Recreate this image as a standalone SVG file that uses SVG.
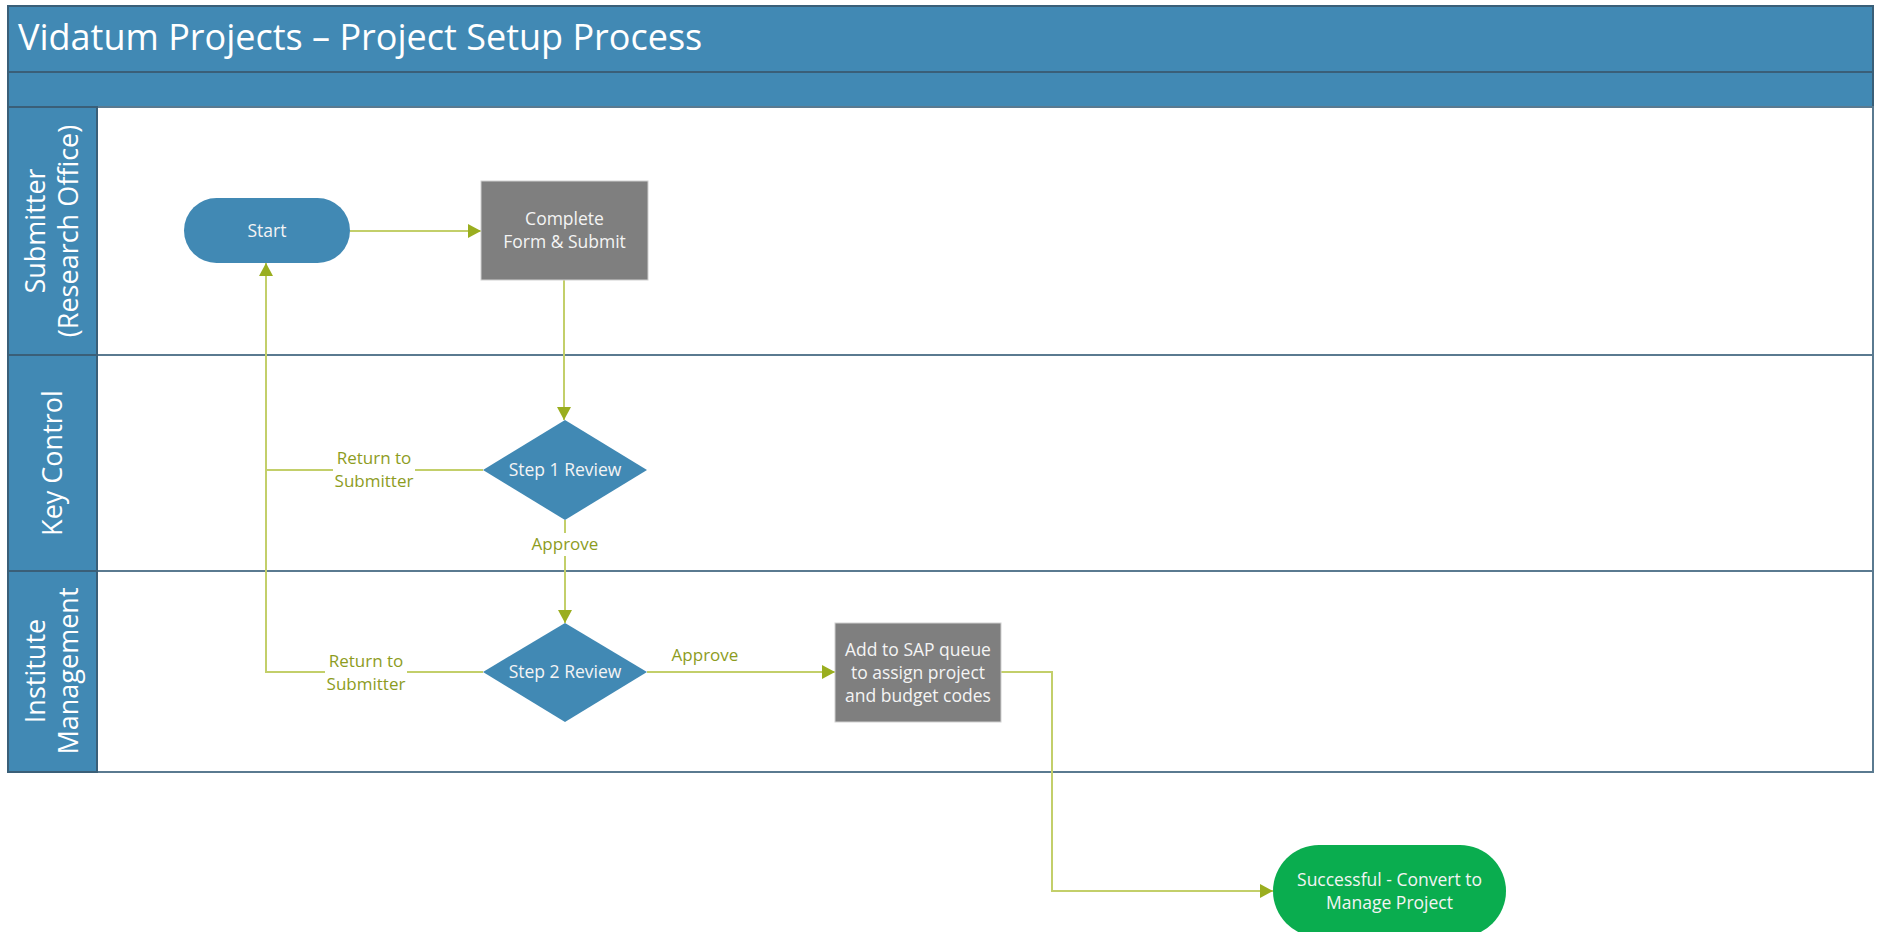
<svg xmlns="http://www.w3.org/2000/svg" width="1878" height="932" viewBox="0 0 1878 932">
<defs>
<style>
.band{fill:#4189b4;stroke:#3a5f78;stroke-width:2}
.lanebody{fill:#ffffff;stroke:#5a7a90;stroke-width:2}
.lanehead{fill:#4189b4;stroke:#3a5f78;stroke-width:2}
.title{font-family:"Open Sans","Noto Sans",sans-serif;font-size:36px;fill:#ffffff}
.lanetxt{font-family:"Open Sans","Noto Sans",sans-serif;font-size:27px;fill:#ffffff;text-anchor:middle}
.ntxt{font-family:"Open Sans","Noto Sans",sans-serif;font-size:17.5px;fill:#f4f4f4;text-anchor:middle}
.lbl{font-family:"Open Sans","Noto Sans",sans-serif;font-size:17px;fill:#8d9c1e;text-anchor:middle}
.conn{fill:none;stroke:#c3cf6a;stroke-width:2}
.blue{fill:#4189b4}
.gray{fill:#7f7f7f;stroke:#d0d0d0;stroke-width:1}
.green{fill:#0aad4f}
.lblbg{fill:#ffffff}
</style>
<marker id="arr" markerUnits="userSpaceOnUse" markerWidth="14" markerHeight="14" refX="13" refY="7" orient="auto">
<path d="M0,0 L13,7 L0,14 Z" fill="#9aae1f"/>
</marker>
</defs>
<rect x="0" y="0" width="1878" height="932" fill="#ffffff"/>

<g id="header">
<rect class="band" x="8" y="6" width="1865" height="66"/>
<text class="title" x="18" y="50">Vidatum Projects – Project Setup Process</text>
<rect class="band" x="8" y="72" width="1865" height="35"/>
</g>

<g id="lane-submitter">
<rect class="lanebody" x="8" y="107" width="1865" height="248"/>
<rect class="lanehead" x="8" y="107" width="89" height="248"/>
<text class="lanetxt" transform="translate(45,231) rotate(-90)">Submitter</text>
<text class="lanetxt" transform="translate(78,231) rotate(-90)">(Research Office)</text>
</g>

<g id="lane-keycontrol">
<rect class="lanebody" x="8" y="355" width="1865" height="216"/>
<rect class="lanehead" x="8" y="355" width="89" height="216"/>
<text class="lanetxt" transform="translate(62,463) rotate(-90)">Key Control</text>
</g>

<g id="lane-institute">
<rect class="lanebody" x="8" y="571" width="1865" height="201"/>
<rect class="lanehead" x="8" y="571" width="89" height="201"/>
<text class="lanetxt" transform="translate(45,671) rotate(-90)">Institute</text>
<text class="lanetxt" transform="translate(78,671) rotate(-90)">Management</text>
</g>

<g id="connectors">
<path class="conn" d="M350,231 H481" marker-end="url(#arr)"/>
<path class="conn" d="M564,280 V420" marker-end="url(#arr)"/>
<path class="conn" d="M483,672 H266 V263" marker-end="url(#arr)"/>
<path class="conn" d="M483,470 H266"/>
<path class="conn" d="M565,520 V623" marker-end="url(#arr)"/>
<path class="conn" d="M647,672 H835" marker-end="url(#arr)"/>
<path class="conn" d="M1001,672 H1052 V891 H1273" marker-end="url(#arr)"/>
<rect class="lblbg" x="333" y="448" width="82" height="44"/>
<text class="lbl" x="374" y="464">Return to</text>
<text class="lbl" x="374" y="487">Submitter</text>
<rect class="lblbg" x="325" y="650" width="82" height="44"/>
<text class="lbl" x="366" y="667">Return to</text>
<text class="lbl" x="366" y="690">Submitter</text>
<rect class="lblbg" x="528" y="533" width="74" height="23"/>
<text class="lbl" x="565" y="550">Approve</text>
<text class="lbl" x="705" y="661">Approve</text>
</g>

<g id="start">
<rect class="blue" x="184" y="198" width="166" height="65" rx="32.5"/>
<text class="ntxt" x="267" y="237">Start</text>
</g>

<g id="complete-form">
<rect class="gray" x="481" y="181" width="167" height="99"/>
<text class="ntxt" x="564.5" y="225">Complete</text>
<text class="ntxt" x="564.5" y="248">Form &amp; Submit</text>
</g>

<g id="step1-review">
<polygon class="blue" points="565,420 647,470 565,520 483,470"/>
<text class="ntxt" x="565" y="476">Step 1 Review</text>
</g>

<g id="step2-review">
<polygon class="blue" points="565,623 647,672 565,722 483,672"/>
<text class="ntxt" x="565" y="678">Step 2 Review</text>
</g>

<g id="sap-queue">
<rect class="gray" x="835" y="623" width="166" height="99"/>
<text class="ntxt" x="918" y="656">Add to SAP queue</text>
<text class="ntxt" x="918" y="679">to assign project</text>
<text class="ntxt" x="918" y="702">and budget codes</text>
</g>

<g id="successful">
<rect class="green" x="1273" y="845" width="233" height="92" rx="46"/>
<text class="ntxt" x="1389.5" y="886">Successful - Convert to</text>
<text class="ntxt" x="1389.5" y="909">Manage Project</text>
</g>
</svg>
